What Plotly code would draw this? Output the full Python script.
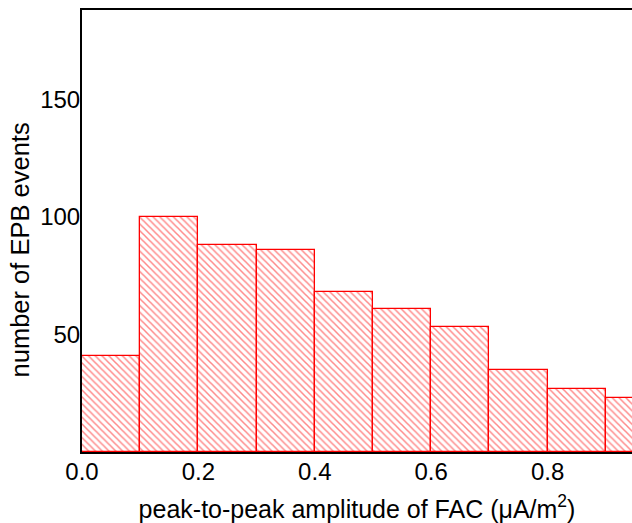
import plotly.graph_objects as go

bin_left = [0.0, 0.1, 0.2, 0.3, 0.4, 0.5, 0.6, 0.7, 0.8, 0.9]
counts = [41, 100, 88, 86, 68, 61, 53, 35, 27, 23]
bin_width = 0.1
x_tick_vals = [0.0, 0.2, 0.4, 0.6, 0.8]
x_tick_text = ["0.0", "0.2", "0.4", "0.6", "0.8"]
y_tick_vals = [50, 100, 150]
y_tick_text = ["50", "100", "150"]
x_title = "peak-to-peak amplitude of FAC (\u03bcA/m<sup>2</sup>)"
y_title = "number of EPB events"

centers = [b + bin_width / 2 for b in bin_left]

fig = go.Figure(go.Bar(
    x=centers, y=counts, width=[bin_width] * len(counts),
    marker=dict(
        color="white",
        line=dict(color="red", width=1.3),
        pattern=dict(shape="\\", fgcolor="rgb(255,20,20)", bgcolor="white",
                     size=4.8, solidity=0.32),
    ),
    showlegend=False,
))

font = "Liberation Sans, Arial, sans-serif"
fig.update_layout(
    width=632, height=523,
    margin=dict(l=82, r=0, t=10, b=71),
    paper_bgcolor="white", plot_bgcolor="white",
    bargap=0,
    font=dict(family=font, size=24, color="black"),
)
fig.update_xaxes(
    range=[0, 0.945], tickvals=x_tick_vals, ticktext=x_tick_text,
    showline=True, linecolor="black", linewidth=2, mirror=True,
    showgrid=False, zeroline=False, ticks="", automargin=False,
    tickfont=dict(size=24), ticklabelstandoff=-3,
    title=dict(text=x_title, font=dict(size=25), standoff=18),
)
fig.update_yaxes(
    range=[0, 188], tickvals=y_tick_vals, ticktext=y_tick_text,
    showline=True, linecolor="black", linewidth=2, mirror=False,
    showgrid=False, zeroline=False, ticks="", ticklabelstandoff=-5,
    automargin=False,
    tickfont=dict(size=24),
)
fig.add_annotation(
    text=y_title, textangle=-90, showarrow=False,
    xref="paper", yref="paper", x=-0.1127, y=0.456,
    xanchor="center", yanchor="middle",
    font=dict(size=25.5, family=font, color="black"),
)

fig.write_html(
    "out.html",
    config={"displayModeBar": False},
    post_script="document.body.style.margin='0';document.body.style.overflow='hidden';",
)
